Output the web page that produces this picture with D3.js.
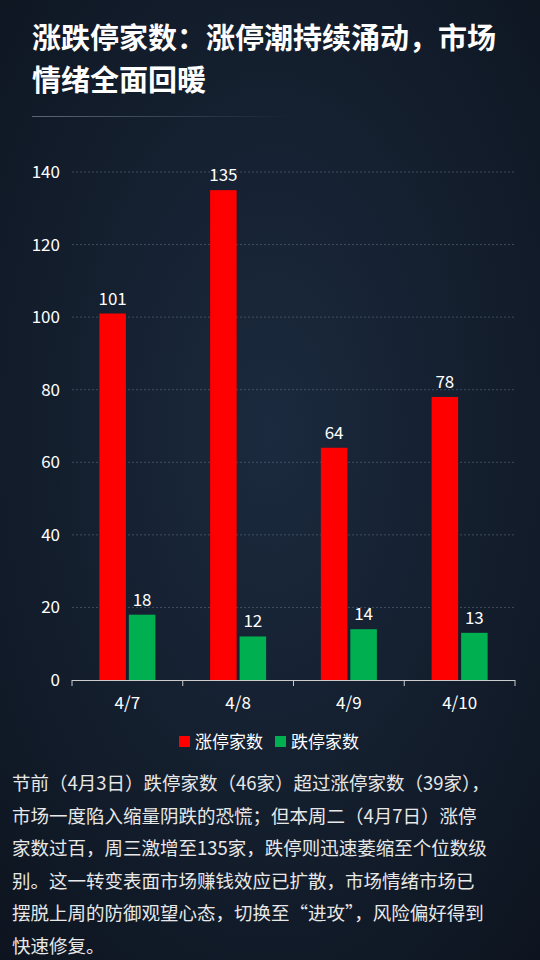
<!DOCTYPE html>
<html><head><meta charset="utf-8">
<script src="https://cdn.jsdelivr.net/npm/d3@7"></script>
<style>body{margin:0;background:#111a27;}svg{display:block;}</style>
</head><body><svg id="c" width="540" height="960"></svg>
<script>
const categories = ["4/7","4/8","4/9","4/10"];
const seriesNames = ["涨停家数","跌停家数"];
const limitUp = [101,135,64,78];
const limitDown = [18,12,14,13];
const yTicks = [0,20,40,60,80,100,120,140];
const titleLines = ["涨跌停家数：涨停潮持续涌动，市场","情绪全面回暖"];
const paraLines = ["节前（4月3日）跌停家数（46家）超过涨停家数（39家），","市场一度陷入缩量阴跌的恐慌；但本周二（4月7日）涨停","家数过百，周三激增至135家，跌停则迅速萎缩至个位数级","别。这一转变表面市场赚钱效应已扩散，市场情绪市场已","摆脱上周的防御观望心态，切换至“进攻”，风险偏好得到","快速修复。"];
const colors = ["#ff0000","#00b050"];
const font = "'Noto Sans CJK SC','Noto Sans',sans-serif";

const svg = d3.select("#c");
const defs = svg.append("defs");
const g = defs.append("radialGradient").attr("id","bg").attr("cx","50%").attr("cy","45%").attr("r","75%");
g.append("stop").attr("offset","0%").attr("stop-color","#1b2a3e");
g.append("stop").attr("offset","100%").attr("stop-color","#0d141f");
svg.append("rect").attr("width",540).attr("height",960).attr("fill","url(#bg)");
const lg = defs.append("linearGradient").attr("id","ln");
lg.append("stop").attr("offset","0%").attr("stop-color","#8899aa").attr("stop-opacity",0.6);
lg.append("stop").attr("offset","100%").attr("stop-color","#8899aa").attr("stop-opacity",0);

svg.selectAll("text.t").data(titleLines).join("text")
  .attr("x",32).attr("y",(d,i)=>49+i*42).attr("fill","#fff")
  .attr("font-size",29).attr("font-weight","bold").attr("font-family",font).text(d=>d);
svg.append("rect").attr("x",32).attr("y",116).attr("width",260).attr("height",1).attr("fill","url(#ln)");

const y = d3.scaleLinear().domain([0,140]).range([680,172]);
const x = d3.scaleBand().domain(categories).range([72,515]);
const xs = d3.scaleBand().domain([0,1]).range([0,56]).paddingInner(0.1);

svg.selectAll("line.grid").data(yTicks.filter(d=>d>0)).join("line")
  .attr("x1",72).attr("x2",515).attr("y1",d=>y(d)).attr("y2",d=>y(d))
  .attr("stroke","#6a7a8c").attr("stroke-opacity",0.5).attr("stroke-dasharray","2,2");
svg.selectAll("text.yt").data(yTicks).join("text")
  .attr("x",60).attr("y",d=>y(d)+6).attr("text-anchor","end").attr("fill","#fff")
  .attr("font-size",17).attr("font-family",font).text(d=>d);
svg.append("line").attr("x1",72).attr("x2",515).attr("y1",680.5).attr("y2",680.5).attr("stroke","#ccc");
categories.forEach(c=>{
  const cx=x(c)+x.bandwidth()/2;
  svg.append("line").attr("x1",x(c)).attr("x2",x(c)).attr("y1",680).attr("y2",686).attr("stroke","#ccc");
  svg.append("text").attr("x",cx).attr("y",709).attr("text-anchor","middle").attr("fill","#fff")
    .attr("font-size",17).attr("font-family",font).text(c);
});
svg.append("line").attr("x1",515).attr("x2",515).attr("y1",680).attr("y2",686).attr("stroke","#ccc");

[limitUp,limitDown].forEach((arr,si)=>{
  arr.forEach((v,i)=>{
    const c=categories[i];
    const bx=x(c)+x.bandwidth()/2-28+xs(si);
    svg.append("rect").attr("x",bx).attr("y",y(v)).attr("width",xs.bandwidth()).attr("height",680-y(v)).attr("fill",colors[si]);
    svg.append("text").attr("x",bx+xs.bandwidth()/2).attr("y",y(v)-9).attr("text-anchor","middle")
      .attr("fill","#fff").attr("font-size",17).attr("font-family",font).text(v);
  });
});

const legX=[179,275];
seriesNames.forEach((n,i)=>{
  svg.append("rect").attr("x",legX[i]).attr("y",736).attr("width",11).attr("height",11).attr("fill",colors[i]);
  svg.append("text").attr("x",legX[i]+16).attr("y",748).attr("fill","#fff").attr("font-size",17).attr("font-family",font).text(n);
});

svg.selectAll("text.p").data(paraLines).join("text")
  .attr("x",12).attr("y",(d,i)=>790+i*32.5).attr("fill","#e8e8e8")
  .attr("font-size",18.5).attr("font-family",font).text(d=>d);
</script></body></html>
